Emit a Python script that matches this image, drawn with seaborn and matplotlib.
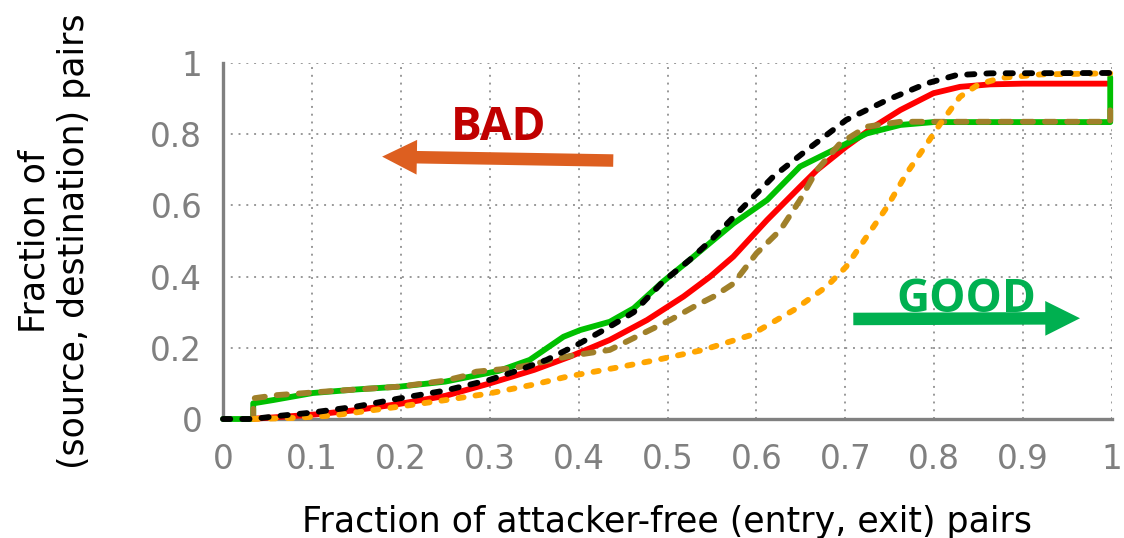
import matplotlib
matplotlib.use("Agg")
import matplotlib.pyplot as plt
import seaborn as sns
import pandas as pd

# ---------------- data ----------------
red_x = [0.03, 0.06, 0.105, 0.15, 0.2, 0.25, 0.3, 0.35, 0.39, 0.435, 0.477, 0.518, 0.548, 0.574,
         0.612, 0.649, 0.668, 0.701, 0.732, 0.762, 0.799, 0.829, 0.863, 0.9, 0.995]
red_y = [0.0, 0.005, 0.013, 0.025, 0.043, 0.065, 0.10, 0.138, 0.175, 0.222, 0.278, 0.344, 0.40, 0.456,
         0.559, 0.652, 0.699, 0.765, 0.821, 0.868, 0.915, 0.933, 0.94, 0.942, 0.942]

green_x = [0.0, 0.034, 0.034, 0.056, 0.101, 0.15, 0.199, 0.25, 0.274, 0.31, 0.345, 0.383, 0.402, 0.435,
           0.462, 0.495, 0.525, 0.548, 0.574, 0.612, 0.649, 0.687, 0.724, 0.762, 0.799, 0.998, 0.998]
green_y = [0.0, 0.0, 0.044, 0.053, 0.073, 0.083, 0.091, 0.105, 0.117, 0.135, 0.166, 0.231, 0.25, 0.273,
           0.311, 0.386, 0.447, 0.495, 0.549, 0.615, 0.709, 0.756, 0.802, 0.826, 0.834, 0.834, 0.96]

olive_x = [0.034, 0.034, 0.06, 0.12, 0.199, 0.25, 0.27, 0.285, 0.327, 0.345, 0.39, 0.435, 0.473, 0.503,
           0.533, 0.552, 0.574, 0.60, 0.627, 0.649, 0.668, 0.694, 0.724, 0.762, 0.998, 0.998]
olive_y = [0.0, 0.058, 0.067, 0.078, 0.091, 0.108, 0.12, 0.133, 0.143, 0.152, 0.177, 0.194, 0.241, 0.278,
           0.32, 0.344, 0.38, 0.465, 0.531, 0.615, 0.699, 0.774, 0.821, 0.835, 0.835, 0.87]

orange_x = [0.034, 0.08, 0.124, 0.199, 0.25, 0.30, 0.35, 0.387, 0.44, 0.488, 0.54, 0.593, 0.642, 0.679,
            0.701, 0.724, 0.747, 0.769, 0.792, 0.807, 0.829, 0.85, 0.875, 0.92, 0.998]
orange_y = [0.0, 0.003, 0.01, 0.035, 0.053, 0.072, 0.097, 0.119, 0.143, 0.166, 0.194, 0.235, 0.306, 0.372,
            0.428, 0.512, 0.596, 0.69, 0.774, 0.83, 0.905, 0.94, 0.958, 0.968, 0.971]

black_x = [0.0, 0.034, 0.06, 0.1, 0.15, 0.199, 0.25, 0.30, 0.33, 0.364, 0.398, 0.432, 0.462, 0.495, 0.525,
           0.548, 0.582, 0.619, 0.657, 0.701, 0.747, 0.792, 0.825, 0.863, 0.998, 0.998]
black_y = [0.0, 0.0, 0.008, 0.018, 0.035, 0.058, 0.08, 0.11, 0.135, 0.166, 0.208, 0.255, 0.30, 0.386, 0.447,
           0.50, 0.587, 0.681, 0.756, 0.84, 0.896, 0.943, 0.966, 0.971, 0.972, 1.0]

x_ticks = [0, 0.1, 0.2, 0.3, 0.4, 0.5, 0.6, 0.7, 0.8, 0.9, 1.0]
x_tick_labels = ["0", "0.1", "0.2", "0.3", "0.4", "0.5", "0.6", "0.7", "0.8", "0.9", "1"]
y_ticks = [0, 0.2, 0.4, 0.6, 0.8, 1.0]
y_tick_labels = ["0", "0.2", "0.4", "0.6", "0.8", "1"]

x_label = "Fraction of attacker-free (entry, exit) pairs"
y_label = "Fraction of\n(source, destination) pairs"

# ---------------- styling ----------------
sns.set_theme(style="white")
plt.rcParams["font.family"] = ["DejaVu Sans"]

GRAY = "#808080"
fig = plt.figure(figsize=(11.24, 5.38), dpi=100)
ax = fig.add_axes([223 / 1124, 1 - 419 / 538, (1112 - 223) / 1124, (419 - 63) / 538])

LW = 4.2
series = [
    (red_x, red_y, "#ff0000", None),
    (green_x, green_y, "#00c000", None),
    (olive_x, olive_y, "#a0802a", (1.75, 2.05)),
    (orange_x, orange_y, "#ffa500", (0.9, 2.05)),
    (black_x, black_y, "#000000", (1.25, 2.05)),
]
for xs, ys, col, dash in series:
    df = pd.DataFrame({"x": xs, "y": ys})
    kw = dict(color=col, linewidth=LW, clip_on=False)
    if dash is not None:
        kw["linestyle"] = (0, dash)
    sns.lineplot(data=df, x="x", y="y", ax=ax, sort=False, estimator=None, **kw)

for line in ax.lines:
    line.set_dash_capstyle("round")
    line.set_solid_capstyle("round")
    line.set_dash_joinstyle("round")
    line.set_solid_joinstyle("round")

ax.set_xlim(0, 1)
ax.set_ylim(0, 1)
ax.set_xticks(x_ticks)
ax.set_xticklabels(x_tick_labels)
ax.set_yticks(y_ticks)
ax.set_yticklabels(y_tick_labels)

ax.grid(True, color="#999999", linestyle=(0, (1, 3)), linewidth=1.4)
ax.set_axisbelow(True)
for s in ["top", "right"]:
    ax.spines[s].set_visible(False)
for s in ["left", "bottom"]:
    ax.spines[s].set_color(GRAY)
    ax.spines[s].set_linewidth(2.4)
    ax.spines[s].set_zorder(1.5)

ax.tick_params(axis="both", direction="in", length=12.5, width=2.2, color=GRAY,
               labelcolor=GRAY, labelsize=23.5)
ax.tick_params(axis="x", pad=17)
ax.tick_params(axis="y", pad=15)

ax.set_xlabel(x_label, fontsize=25, color="black", labelpad=21)
ax.set_ylabel(y_label, fontsize=25, color="black", linespacing=1.2)
ax.yaxis.set_label_coords(-0.149, 0.5)

# ---------------- annotations ----------------
ax.annotate("", xy=(0.179, 0.737), xytext=(0.439, 0.726),
            arrowprops=dict(arrowstyle="simple,head_length=25,head_width=25,tail_width=9",
                            mutation_scale=1, color="#dd5f20", lw=0, shrinkA=0, shrinkB=0))
ax.annotate("", xy=(0.964, 0.283), xytext=(0.709, 0.281),
            arrowprops=dict(arrowstyle="simple,head_length=25,head_width=25,tail_width=9",
                            mutation_scale=1, color="#00b050", lw=0, shrinkA=0, shrinkB=0))
ax.text(0.3105, 0.784, "BAD", color="#c00000", fontsize=33, fontweight="bold",
        family=["Open Sans", "DejaVu Sans"], ha="center", va="baseline")
ax.text(0.8365, 0.301, "GOOD", color="#00b050", fontsize=33, fontweight="bold",
        family=["Open Sans", "DejaVu Sans"], ha="center", va="baseline")

fig.savefig("out.png", dpi=100, facecolor="white")
